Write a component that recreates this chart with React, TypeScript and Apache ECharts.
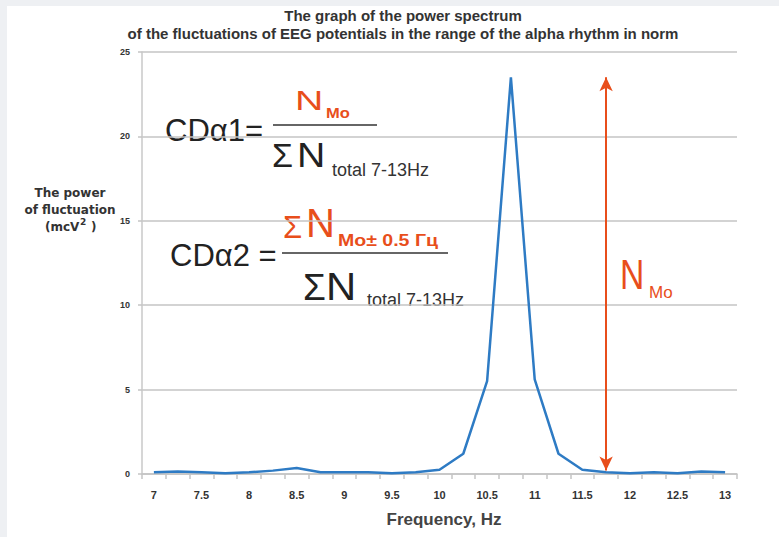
import React, { useEffect, useRef } from "react";
import * as echarts from "echarts";

const categories = [
  "7", "7.25", "7.5", "7.75", "8", "8.25", "8.5", "8.75", "9", "9.25", "9.5", "9.75",
  "10", "10.25", "10.5", "10.75", "11", "11.25", "11.5", "11.75", "12", "12.25", "12.5", "12.75", "13",
];
const power = [
  0.1, 0.15, 0.1, 0.05, 0.1, 0.2, 0.35, 0.1, 0.1, 0.1, 0.05, 0.1,
  0.25, 1.2, 5.5, 23.5, 5.6, 1.2, 0.25, 0.1, 0.05, 0.1, 0.05, 0.15, 0.1,
];
const arrowAt = "11.75";
const arrowFrom = 0.2;
const arrowTo = 23.5;
const yMin = 0;
const yMax = 25;
const yStep = 5;

const FONT = "'Liberation Sans', Arial, Helvetica, sans-serif";
const DV = "'DejaVu Sans', sans-serif";
const RED = "#e84e1b";
const INK = "#222";

function txt(text: string, x: number, y: number, size: number, fill: string, opts: any = {}) {
  return {
    type: "text",
    x,
    y,
    scaleX: opts.scaleX ?? 1,
    style: {
      text,
      fontSize: size,
      fontFamily: opts.family ?? FONT,
      fontWeight: opts.bold ? "bold" : "normal",
      fill,
      textAlign: opts.align ?? "left",
      textVerticalAlign: "middle",
    },
  };
}

export default function App() {
  const ref = useRef<HTMLDivElement>(null);
  useEffect(() => {
    if (!ref.current) return;
    const chart = echarts.init(ref.current, undefined, { renderer: "svg" });
    chart.setOption({
      animation: false,
      backgroundColor: "transparent",
      title: {
        text: "The graph of the power spectrum\nof the fluctuations of EEG potentials in the range of the alpha rhythm in norm",
        left: 398,
        top: 1,
        textAlign: "center",
        textStyle: { fontSize: 15, fontWeight: "bold", lineHeight: 18, color: "#333", fontFamily: FONT },
      },
      grid: { left: 142, right: 42, top: 52, bottom: 63 },
      xAxis: {
        type: "category",
        data: categories,
        boundaryGap: true,
        name: "Frequency, Hz",
        nameLocation: "middle",
        nameGap: 37,
        nameTextStyle: { fontSize: 17, fontWeight: "bold", color: "#444", fontFamily: FONT, padding: [0, 0, 0, 9] },
        axisLine: { show: true, lineStyle: { color: "#c4c4c4", width: 1.5 } },
        axisTick: { show: true, interval: 0, length: 5, alignWithLabel: false, lineStyle: { color: "#c4c4c4", width: 1.5 } },
        axisLabel: { interval: 1, margin: 15, fontSize: 11, fontWeight: "bold", color: "#333", fontFamily: FONT },
        splitLine: { show: false },
      },
      yAxis: {
        type: "value",
        min: yMin,
        max: yMax,
        interval: yStep,
        axisLine: { show: true, lineStyle: { color: "#c8c8c8", width: 1.5 } },
        axisTick: { show: true, length: 4, lineStyle: { color: "#c4c4c4", width: 1.5 } },
        axisLabel: { margin: 12, fontSize: 9, fontWeight: "bold", color: "#333", fontFamily: FONT },
        splitLine: { show: true, lineStyle: { color: "#c4c4c4", width: 1.5 } },
      },
      series: [
        {
          type: "line",
          data: power,
          symbol: "none",
          lineStyle: { color: "#2e7bc4", width: 2.5 },
          z: 3,
          markLine: {
            silent: true,
            symbol: ["arrow", "arrow"],
            symbolSize: [10, 14],
            label: { show: false },
            lineStyle: { color: RED, width: 2, type: "solid" },
            data: [[{ coord: [arrowAt, arrowFrom] }, { coord: [arrowAt, arrowTo] }]],
          },
        },
      ],
      graphic: [
        // y axis name
        txt("The power", 70, 193, 12, "#333", { bold: true, align: "center", family: DV }),
        txt("of fluctuation", 70, 210, 12, "#333", { bold: true, align: "center", family: DV }),
        txt("(mcV", 45, 227, 12, "#333", { bold: true, family: DV }),
        txt("2", 80, 222, 9, "#333", { bold: true, family: DV }),
        txt(")", 91, 227, 12, "#333", { bold: true, family: DV }),
        // formula 1
        txt("CDα1=", 165, 130, 31, INK),
        { type: "line", shape: { x1: 273, y1: 125, x2: 377, y2: 125 }, style: { stroke: "#333", lineWidth: 1.5 } },
        txt("N", 295, 100, 28, RED, { scaleX: 1.4 }),
        txt("Mo", 326, 113, 15, RED, { bold: true, scaleX: 1.1 }),
        txt("Σ", 272, 155, 34, INK),
        txt("N", 297, 155, 35, INK, { scaleX: 1.12 }),
        txt("total 7-13Hz", 332, 170, 18, "#333"),
        // formula 2
        txt("CDα2 =", 170, 255, 31, INK),
        { type: "line", shape: { x1: 282, y1: 253, x2: 448, y2: 253 }, style: { stroke: "#333", lineWidth: 1.5 } },
        txt("Σ", 283, 227, 31, RED),
        txt("N", 306, 223, 40, RED),
        txt("Mo± 0.5 Гц", 338, 240, 17, RED, { bold: true, scaleX: 1.15 }),
        txt("Σ", 303, 287, 37, INK),
        txt("N", 326, 287, 38, INK, { scaleX: 1.1 }),
        txt("total 7-13Hz", 367, 300, 18, "#333"),
        // N Mo label by arrow
        txt("N", 620, 275, 42, RED, { scaleX: 0.8 }),
        txt("Mo", 649, 292, 17, RED),
      ],
    });
    return () => chart.dispose();
  }, []);
  return (
    <div style={{ position: "fixed", left: 0, top: 0, width: 779, height: 537, background: "#eef0f3" }}>
      <div style={{ position: "absolute", left: 7, top: 6, right: 0, bottom: 0, background: "#ffffff" }} />
      <div ref={ref} style={{ position: "absolute", left: 0, top: 0, width: 779, height: 537 }} />
    </div>
  );
}
